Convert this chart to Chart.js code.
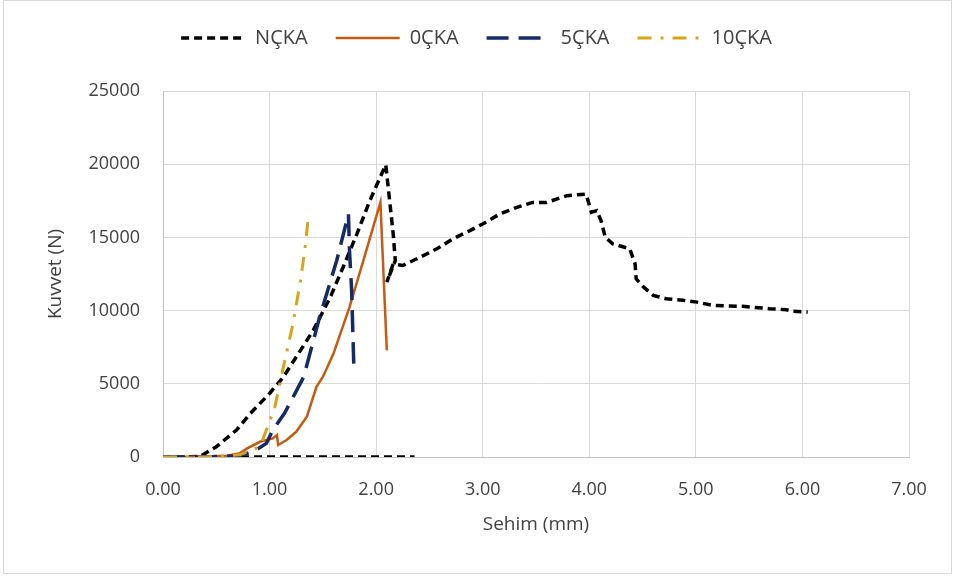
<!DOCTYPE html>
<html>
<head>
<meta charset="utf-8">
<script src="https://cdn.jsdelivr.net/npm/chart.js@4.4.1/dist/chart.umd.min.js"></script>
<style>
  body { margin: 0; background: #fff; }
  #wrap { position: relative; width: 953px; height: 576px; }
  #frame { position: absolute; left: 3px; top: 0px; width: 947px; height: 572px; border: 1px solid #d9d9d9; pointer-events: none; }
</style>
</head>
<body>
<div id="wrap">
  <canvas id="chart" width="953" height="576"></canvas>
  <div id="frame"></div>
</div>
<script>
// series names
var seriesNames = ["NÇKA", "0ÇKA", "5ÇKA", "10ÇKA"];

// NÇKA : flat run on the axis, gap, then the loading curve
var nckaX = [0, 2.36, 2.36,
  0, 0.20, 0.35, 0.50, 0.69, 0.82, 1.00, 1.13, 1.25, 1.41, 1.57, 1.69, 1.82, 1.94, 2.09,
  2.11, 2.16, 2.18, 2.10, 2.16, 2.25, 2.41, 2.57, 2.72, 2.88, 3.00, 3.16, 3.32, 3.47, 3.60,
  3.79, 3.97, 4.02, 4.07, 4.11, 4.15, 4.22, 4.38, 4.43, 4.44, 4.51, 4.60, 4.72, 4.88, 5.01,
  5.16, 5.44, 5.69, 5.85, 5.91, 6.05];
var nckaY = [0, 0, null,
  0, 0, 50, 700, 1840, 2980, 4340, 5470, 6830, 8650, 10920, 12960, 15240, 17500, 19960,
  18640, 15240, 13420, 11940, 13190, 13080, 13640, 14220, 14900, 15460, 15920, 16600, 17050, 17390, 17390,
  17850, 17960, 16710, 16830, 16150, 15010, 14560, 14220, 13190, 12170, 11600, 11040, 10810, 10700, 10580,
  10350, 10290, 10130, 10060, 9950, 9900];

// 0ÇKA
var ocka0X = [0, 0.30, 0.60, 0.72, 0.79, 0.91, 1.03, 1.07, 1.08, 1.16, 1.25, 1.35, 1.44, 1.50, 1.60, 1.75, 1.88, 2.04, 2.10];
var ocka0Y = [0, 20, 80, 250, 590, 1040, 1270, 1500, 820, 1160, 1720, 2750, 4790, 5470, 7060, 10240, 13420, 17390, 7290];

// 5ÇKA
var ocka5X = [0, 0.40, 0.70, 0.85, 0.97, 1.03, 1.14, 1.32, 1.47, 1.63, 1.74, 1.75, 1.77, 1.79];
var ocka5Y = [0, 0, 80, 360, 930, 1840, 2980, 5470, 9560, 13420, 16600, 14100, 11380, 6380];

// 10ÇKA
var ocka10X = [0, 0.40, 0.72, 0.91, 0.97, 1.05, 1.13, 1.22, 1.29, 1.33, 1.36, 1.37];
var ocka10Y = [0, 0, 150, 700, 1840, 3430, 6150, 9110, 12060, 14100, 16140, 16400];

// axes
var xTicks = [0, 1, 2, 3, 4, 5, 6, 7];
var yTicks = [0, 5000, 10000, 15000, 20000, 25000];

function pairs(xs, ys) {
  var out = [];
  for (var i = 0; i < xs.length; i++) {
    out.push({ x: xs[i], y: ys[i] });
  }
  return out;
}

var FONT = "'Open Sans', 'Liberation Sans', sans-serif";
var TEXT = "#404040";

/**
 * push the plot area down below the legend
 */
var legendGap = {
  id: "legendGap",
  beforeLayout: function (chart) {
    var lg = chart.legend;
    if (lg && !lg._gapDone) {
      var fit = lg.fit;
      lg.fit = function () {
        fit.call(this);
        this.height += 33;
      };
      lg._gapDone = true;
    }
  }
};

var datasets = [
  { label: seriesNames[0], data: pairs(nckaX, nckaY), borderColor: "#000000", borderWidth: 3.5, borderDash: [8, 5], order: 4 },
  { label: seriesNames[1], data: pairs(ocka0X, ocka0Y), borderColor: "#C55A11", borderWidth: 2.5, borderDash: [], order: 3 },
  { label: seriesNames[2], data: pairs(ocka5X, ocka5Y), borderColor: "#142B68", borderWidth: 3.5, borderDash: [22, 10], order: 2 },
  { label: seriesNames[3], data: pairs(ocka10X, ocka10Y), borderColor: "#D9A21B", borderWidth: 3, borderDash: [14, 9, 3, 9], order: 1 }
];

for (var i = 0; i < datasets.length; i++) {
  datasets[i].showLine = true;
  datasets[i].pointRadius = 0;
  datasets[i].tension = 0;
  datasets[i].spanGaps = false;
  datasets[i].fill = false;
  datasets[i].backgroundColor = datasets[i].borderColor;
}

new Chart(document.getElementById("chart").getContext("2d"), {
  type: "scatter",
  data: { datasets: datasets },
  plugins: [legendGap],
  options: {
    responsive: false,
    animation: false,
    layout: { padding: { left: 44, right: 44, top: 0, bottom: 0 } },
    plugins: {
      legend: {
        position: "top",
        labels: {
          color: TEXT,
          font: { family: FONT, size: 20 },
          usePointStyle: true,
          pointStyle: "line",
          pointStyleWidth: 64,
          padding: 28,
          sort: function (a, b) { return a.datasetIndex - b.datasetIndex; },
          generateLabels: function (chart) {
            var items = Chart.defaults.plugins.legend.labels.generateLabels(chart);
            items.forEach(function (it) {
              var ds = chart.data.datasets[it.datasetIndex];
              it.lineDash = ds.borderDash;
              it.lineWidth = ds.borderWidth;
              it.strokeStyle = ds.borderColor;
              it.pointStyle = "line";
            });
            return items;
          }
        }
      },
      tooltip: { enabled: false }
    },
    scales: {
      x: {
        type: "linear",
        min: xTicks[0],
        max: xTicks[xTicks.length - 1],
        afterFit: function (scale) { scale.height = 119; },
        afterBuildTicks: function (scale) {
          scale.ticks = xTicks.map(function (v) { return { value: v }; });
        },
        ticks: {
          color: TEXT,
          padding: 22,
          font: { family: FONT, size: 18 },
          callback: function (v) { return Number(v).toFixed(2); }
        },
        grid: { color: "#d9d9d9", lineWidth: 1, drawTicks: false },
        border: { color: "#bfbfbf", width: 1 },
        title: {
          display: true,
          text: "Sehim (mm)",
          color: TEXT,
          font: { family: FONT, size: 19 },
          padding: { top: 0, bottom: 40 }
        }
      },
      y: {
        type: "linear",
        min: yTicks[0],
        max: yTicks[yTicks.length - 1],
        afterFit: function (scale) { scale.width = 119; },
        afterBuildTicks: function (scale) {
          scale.ticks = yTicks.map(function (v) { return { value: v }; });
        },
        ticks: {
          color: TEXT,
          padding: 23,
          font: { family: FONT, size: 18 },
          callback: function (v) { return String(v); }
        },
        grid: { color: "#d9d9d9", lineWidth: 1, drawTicks: false },
        border: { color: "#bfbfbf", width: 1 },
        title: {
          display: true,
          text: "Kuvvet (N)",
          color: TEXT,
          font: { family: FONT, size: 19 },
          padding: { top: 0, bottom: 0 }
        }
      }
    }
  }
});
</script>
</body>
</html>
